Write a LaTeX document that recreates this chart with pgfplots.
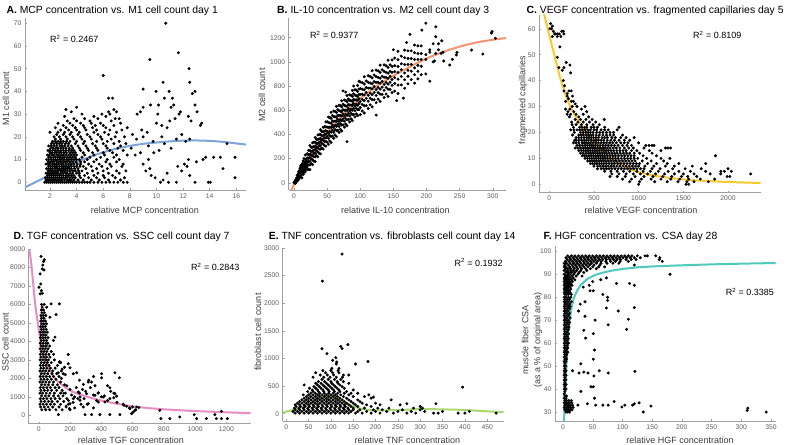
\documentclass[border=0pt]{standalone}
\usepackage{pgfplots}
\pgfplotsset{compat=1.18}
\usepackage{fontspec}
\setmainfont{Liberation Sans}
\definecolor{cA}{RGB}{123,164,219}
\definecolor{cB}{RGB}{246,148,110}
\definecolor{cC}{RGB}{250,200,40}
\definecolor{cD}{RGB}{232,140,196}
\definecolor{cE}{RGB}{170,216,110}
\definecolor{cF}{RGB}{80,200,190}
\definecolor{axgray}{RGB}{160,160,160}
\definecolor{tkgray}{RGB}{95,95,95}
\definecolor{lbgray}{RGB}{60,60,60}
\pgfplotsset{
  panel/.style={
    scale only axis, anchor=south west,
    axis x line*=bottom, axis y line*=left,
    axis line style={draw=axgray, line width=0.5pt},
    every tick/.style={draw=axgray, line width=0.4pt},
    tick align=inside, major tick length=2pt,
    ticklabel style={font=\fontsize{6.8}{8}\selectfont, text=tkgray},
    /pgf/number format/assume math mode=true,
    /pgf/number format/1000 sep={},
    scaled ticks=false,
  },
  pts/.style={only marks, mark=*, mark size=1.3pt, draw=black, fill=black},
  fit/.style={line width=2pt, smooth, no marks},
}
\newcommand{\ttl}{\fontsize{10.4}{12}\selectfont}
\newcommand{\lbl}{\fontsize{9}{10}\selectfont\color{lbgray}}
\newcommand{\rsq}{\fontsize{9}{10}\selectfont}
\begin{document}
\begin{tikzpicture}[x=1pt,y=1pt]
\useasboundingbox (0pt,0pt) rectangle (786pt,444pt);
% ---------------- A
\begin{axis}[panel, at={(25pt,254pt)}, width=221pt, height=172pt,
  xmin=0.12, xmax=16.73, ymin=-3.4, ymax=72.3,
  xtick={2,4,...,16}, ytick={0,10,...,70}]
\addplot[pts] coordinates {
(1.6,0)(1.75,0)(1.9,0)(2.05,0)(2.2,0)(2.35,0)(2.5,0)(2.65,0)(2.8,0)(2.95,0)(3.1,0)(3.25,0)(3.4,0)(3.55,0)(3.7,0)(3.85,0)(4,0)(4.2,0)(4.4,0)(4.6,0)(4.8,0)(5,0)(5.3,0)(5.6,0)(5.9,0)(6.2,0)(6.5,0)(6.8,0)(7.1,0)(7.5,0)(7.8,0)(10.3,0)(10.9,0)(11.5,0)(12.9,0)(13.9,0)(14.05,0)
(1.7,1)(1.85,1)(2,1)(2.15,1)(2.3,1)(2.45,1)(2.6,1)(2.75,1)(2.9,1)(3.1,1)(3.3,1)(3.45,1)(3.6,1)(3.8,1)(4.1,1)(4.5,1)(5.1,1)(5.7,1)(6.4,1)(7.3,1)(10.5,1)
(1.65,2)(1.8,2)(1.95,2)(2.1,2)(2.25,2)(2.4,2)(2.55,2)(2.7,2)(2.85,2)(3,2)(3.15,2)(3.3,2)(3.5,2)(3.7,2)(3.9,2)(4.3,2)(4.9,2)(5.5,2)(6.1,2)(6.9,2)(7.6,2)(9.9,2)(15.9,2)
(1.8,3)(1.95,3)(2.1,3)(2.25,3)(2.4,3)(2.55,3)(2.7,3)(2.85,3)(3,3)(3.2,3)(3.4,3)(3.6,3)(3.8,3)(4.2,3)(4.6,3)(5.3,3)(6,3)(6.7,3)(9.6,3)(12.5,3)
(1.7,4)(1.85,4)(2,4)(2.15,4)(2.3,4)(2.45,4)(2.6,4)(2.8,4)(3,4)(3.15,4)(3.3,4)(3.5,4)(3.7,4)(4,4)(4.2,4)(4.8,4)(5.6,4)(6.4,4)(7.2,4)(10.8,4)
(1.85,5)(2,5)(2.15,5)(2.3,5)(2.45,5)(2.6,5)(2.8,5)(2.95,5)(3.1,5)(3.3,5)(3.5,5)(3.7,5)(3.9,5)(4.15,5)(4.4,5)(5.2,5)(6,5)(7,5)(7.7,5)(9.2,5)(11.9,5)
(1.75,6)(1.9,6)(2.05,6)(2.2,6)(2.4,6)(2.55,6)(2.7,6)(2.85,6)(3,6)(3.15,6)(3.3,6)(3.45,6)(3.6,6)(3.85,6)(4.1,6)(4.7,6)(5.5,6)(6.3,6)(9.5,6)(15,6)
(1.9,7)(2.05,7)(2.2,7)(2.35,7)(2.5,7)(2.7,7)(2.9,7)(3.05,7)(3.2,7)(3.4,7)(3.6,7)(3.8,7)(4,7)(4.25,7)(4.5,7)(5.1,7)(5.9,7)(6.6,7)(7.4,7)(11.6,7)(12.3,7)
(1.7,8)(1.85,8)(2,8)(2.2,8)(2.35,8)(2.5,8)(2.65,8)(2.85,8)(3,8)(3.2,8)(3.4,8)(3.6,8)(3.8,8)(4.05,8)(4.3,8)(4.9,8)(5.7,8)(6.5,8)(7.5,8)(9,8)(12.1,8)
(1.85,9)(2,9)(2.15,9)(2.3,9)(2.5,9)(2.65,9)(2.8,9)(3,9)(3.15,9)(3.3,9)(3.5,9)(3.7,9)(3.95,9)(4.3,9)(4.6,9)(5.3,9)(6.2,9)(7,9)(13,9)
(1.75,10)(1.9,10)(2.1,10)(2.25,10)(2.4,10)(2.55,10)(2.75,10)(2.9,10)(3.05,10)(3.25,10)(3.4,10)(3.6,10)(3.8,10)(4,10)(4.2,10)(4.8,10)(5.5,10)(6.3,10)(7.2,10)(9.4,10)(12.4,10)(13.5,10)
(1.9,11)(2.05,11)(2.25,11)(2.4,11)(2.6,11)(2.75,11)(2.95,11)(3.1,11)(3.3,11)(3.5,11)(3.7,11)(3.9,11)(4.4,11)(5,11)(5.8,11)(6.8,11)(13.7,11)(14.3,11)(14.8,11)(15.9,11)
(1.8,12)(1.95,12)(2.15,12)(2.3,12)(2.5,12)(2.65,12)(2.85,12)(3,12)(3.2,12)(3.4,12)(3.6,12)(3.8,12)(4,12)(4.6,12)(5.3,12)(6.1,12)(7,12)(7.8,12)(8.4,12)
(2,13)(2.15,13)(2.35,13)(2.5,13)(2.7,13)(2.85,13)(3.05,13)(3.25,13)(3.5,13)(3.7,13)(3.9,13)(4.5,13)(5.2,13)(6,13)(6.7,13)(8.8,13)(9.8,13)
(1.85,14)(2,14)(2.2,14)(2.4,14)(2.6,14)(2.8,14)(3,14)(3.2,14)(3.4,14)(3.6,14)(3.8,14)(4.3,14)(4.9,14)(5.6,14)(6.5,14)(7.5,14)(10.2,14)
(2.05,15)(2.25,15)(2.45,15)(2.6,15)(2.8,15)(3,15)(3.2,15)(3.45,15)(3.7,15)(4.2,15)(4.8,15)(5.5,15)(6.3,15)(7.1,15)(8.1,15)(11.1,15)
(1.9,16)(2.1,16)(2.3,16)(2.5,16)(2.75,16)(2.9,16)(3.1,16)(3.35,16)(3.6,16)(4.1,16)(4.7,16)(5.4,16)(6.2,16)(7.3,16)(9.4,16)
(2.1,17)(2.3,17)(2.5,17)(2.7,17)(2.9,17)(3.15,17)(3.4,17)(3.9,17)(4.5,17)(5.2,17)(6,17)(6.8,17)(7.7,17)(10.6,17)(15.3,17)
(2.2,18)(2.4,18)(2.6,18)(2.8,18)(3,18)(3.25,18)(3.5,18)(4,18)(4.6,18)(5.5,18)(6.3,18)(7.2,18)(9.75,18)(12.2,18)
(2.4,19)(2.8,19)(3.3,19)(3.8,19)(4.4,19)(5.1,19)(5.9,19)(6.6,19)(8.5,19)(11.5,19)(12.5,19)
(2.3,20)(2.7,20)(3.2,20)(3.7,20)(4.3,20)(5,20)(5.8,20)(6.9,20)(7.6,20)(9,20)(10.4,20)
(2.5,21)(3,21)(3.5,21)(4.1,21)(4.8,21)(5.6,21)(6.4,21)(8.2,21)(11.9,21)
(2,22)(2.6,22)(3.1,22)(3.6,22)(4.2,22)(5.3,22)(6.1,22)(7,22)(9.3,22)
(2.8,23)(3.4,23)(4,23)(4.7,23)(5.5,23)(6.5,23)(7.4,23)(8.9,23)
(2.4,24)(3.2,24)(3.9,24)(4.6,24)(5.2,24)(6.2,24)(7.8,24)(10.8,24)
(3,25)(3.7,25)(4.5,25)(5.4,25)(6,25)(6.8,25)(10.4,25)(13.3,25)
(2.6,26)(3.5,26)(4.3,26)(5.1,26)(5.8,26)(7.3,26)(10,26)(13.4,26)
(3.3,27)(4,27)(5,27)(6.6,27)(11,27)(12.6,27)
(3.8,28)(4.6,28)(5.6,28)(6.9,28)(7.2,28)(11.4,28)
(3.1,29)(5.3,29)(6.2,29)(12.4,29)
(4.4,30)(5.9,30)(6.5,30)(8.55,30)(10.1,30)(11.7,30)
(3.6,31)(6.4,31)(7,31)(8.8,31)(11.8,31)(13.05,31)
(3.2,32)(6.8,32)(4,33)(9,33)(11.1,33)(9.55,34)(10.15,34)(11.3,34)(12.9,34)(6.4,37)(6.7,37)(10.6,37)(11.2,37)(12.7,39)(9.97,40)(10.95,40)(12.9,40)(9,41)(10.5,44)(12.5,44)(6,47)(12.45,50)(9.5,54)(11.65,57)(10.7,70)
};
\addplot[fit, cA] coordinates {(0.12,-2.2)(1,0.3)(2,3.3)(3,6.2)(4,8.8)(5,11.2)(6,13.2)(7,14.8)(8,16.0)(9,16.9)(10,17.5)(11,18.0)(12,18.3)(13,18.4)(14,18.2)(15,17.8)(16,17.1)(16.73,16.6)};
\end{axis}
% ---------------- B
\begin{axis}[panel, at={(288.7pt,254pt)}, width=217.3pt, height=172pt,
  xmin=-8, xmax=320, ymin=-60, ymax=1363,
  xtick={0,50,...,300}, ytick={0,200,...,1200}]
\addplot[pts] coordinates {
(0,0)(1,10)(2,-5)(2,20)(3,25)(4,40)(4,10)(5,30)(5,60)(6,45)(6,20)(6,70)(7,55)(7,90)(7,30)(8,70)(8,40)(8,100)(9,60)(9,85)(9,120)(10,50)(10,80)(10,110)(10,140)(11,95)(11,65)(11,130)(12,75)(12,105)(12,150)(12,40)(13,90)(13,125)(13,160)(14,100)(14,70)(14,140)(14,180)(15,115)(15,150)(15,85)(15,200)(16,130)(16,160)(16,100)(17,120)(17,145)(17,175)(17,90)(17,229)(18,135)(18,165)(18,195)(18,110)(19,150)(19,180)(19,125)(20,140)(20,170)(20,205)(20,110)(20,240)
(22,111)(22,147)(22,175)(22,203)(22,231)(22,267)
(24,108)(24,148)(24,176)(24,208)(24,236)(24,268)(24,308)
(26,157)(26,197)(26,229)(26,257)(26,293)
(28,150)(28,190)(28,222)(28,262)(28,294)(28,330)
(30,179)(30,215)(30,243)(30,271)(30,299)(30,335)
(32,175)(32,215)(32,243)(32,275)(32,303)(32,335)(32,375)
(34,223)(34,263)(34,295)(34,323)(34,359)
(36,215)(36,255)(36,287)(36,327)(36,359)(36,395)
(38,243)(38,279)(38,307)(38,335)(38,363)(38,399)
(40,239)(40,279)(40,307)(40,339)(40,367)(40,399)(40,439)
(42,287)(42,327)(42,359)(42,387)(42,423)
(44,279)(44,319)(44,351)(44,391)(44,423)(44,459)
(46,307)(46,343)(46,371)(46,399)(46,427)(46,463)
(48,303)(48,343)(48,371)(48,403)(48,431)(48,463)(48,503)
(50,335)(50,385)(50,425)(50,460)(50,505)
(52,318)(52,368)(52,408)(52,458)(52,498)(52,543)
(54,345)(54,390)(54,425)(54,460)(54,495)(54,540)
(56,333)(56,383)(56,418)(56,458)(56,493)(56,533)(56,583)
(58,386)(58,436)(58,476)(58,511)(58,556)
(60,368)(60,418)(60,458)(60,508)(60,548)(60,593)
(62,395)(62,440)(62,475)(62,510)(62,545)(62,590)
(64,382)(64,432)(64,467)(64,507)(64,542)(64,582)(64,632)
(66,434)(66,484)(66,524)(66,559)(66,604)
(68,416)(68,466)(68,506)(68,556)(68,596)(68,641)
(70,442)(70,487)(70,522)(70,557)(70,592)(70,637)
(72,428)(72,478)(72,513)(72,553)(72,588)(72,628)(72,678)
(74,479)(74,529)(74,569)(74,604)(74,649)(74,760)
(76,460)(76,510)(76,550)(76,600)(76,640)(76,685)
(78,486)(78,531)(78,566)(78,601)(78,636)(78,681)(78,750)
(80,472)(80,522)(80,557)(80,597)(80,632)(80,672)(80,722)(80,340)
(82,523)(82,573)(82,613)(82,648)(82,693)
(84,503)(84,553)(84,593)(84,643)(84,683)(84,728)
(86,529)(86,574)(86,609)(86,644)(86,679)(86,724)
(88,514)(88,564)(88,599)(88,639)(88,674)(88,714)(88,764)
(90,565)(90,615)(90,655)(90,690)(90,735)(90,800)
(92,545)(92,595)(92,635)(92,685)(92,725)(92,770)
(94,570)(94,615)(94,650)(94,685)(94,720)(94,765)
(96,555)(96,605)(96,640)(96,680)(96,715)(96,755)(96,805)
(98,605)(98,655)(98,695)(98,730)(98,775)(98,840)
(100,563)(100,623)(100,671)(100,731)(100,779)(100,833)
(103,594)(103,648)(103,690)(103,732)(103,774)(103,828)
(106,577)(106,637)(106,679)(106,727)(106,769)(106,817)(106,877)
(109,638)(109,698)(109,746)(109,788)(109,842)
(112,615)(112,675)(112,723)(112,783)(112,831)(112,885)
(115,645)(115,699)(115,741)(115,783)(115,825)(115,879)
(118,627)(118,687)(118,729)(118,777)(118,819)(118,867)(118,927)
(121,687)(121,747)(121,795)(121,837)(121,891)
(124,662)(124,722)(124,770)(124,830)(124,878)(124,932)(124,560)
(127,692)(127,746)(127,788)(127,830)(127,872)(127,926)
(130,673)(130,733)(130,775)(130,823)(130,865)(130,913)(130,973)
(133,731)(133,791)(133,839)(133,881)(133,935)
(136,705)(136,765)(136,813)(136,873)(136,921)(136,975)
(139,734)(139,788)(139,830)(139,872)(139,914)(139,968)
(142,714)(142,774)(142,816)(142,864)(142,906)(142,954)(142,1014)
(145,772)(145,832)(145,880)(145,922)(145,976)
(148,746)(148,806)(148,854)(148,914)(148,962)(148,1016)
(152,758)(152,821)(152,870)(152,919)(152,968)(152,1031)(150,1100)
(157,738)(157,808)(157,857)(157,913)(157,962)(157,1018)(157,1088)(155,680)
(162,809)(162,879)(162,935)(162,984)(162,1047)
(167,782)(167,852)(167,908)(167,978)(167,1034)(167,1097)(165,700)
(172,818)(172,881)(172,930)(172,979)(172,1028)(172,1091)(170,1160)
(177,853)(177,923)(177,979)(177,1028)(177,1091)(175,1228)
(182,824)(182,894)(182,950)(182,1020)(182,1076)(182,1139)
(187,859)(187,922)(187,971)(187,1020)(187,1069)(187,1132)
(192,894)(192,964)(192,1020)(192,1069)(192,1132)(193,1263)
(199,1320)(199,1020)(199,1060)(199,900)(205,840)(205,1080)(205,1100)(210,1000)(212,1007)(210,1150)(214,1290)(214,1208)(214,1070)(218,1150)(218,1100)(223,1175)(222,1070)(226,1007)(225,1080)(235,974)(239,1021)(245,1057)(246,1078)(268,1098)(285,1065)(299,1250)(298,1238)(304,1195)
};
\addplot[fit, cB] coordinates {(-4,-60)(0,-15)(10,85)(25,220)(50,415)(75,565)(100,695)(125,800)(150,885)(175,960)(200,1028)(225,1082)(250,1126)(275,1160)(300,1183)(320,1197)};
\end{axis}
% ---------------- C
\begin{axis}[panel, at={(539pt,251.3pt)}, width=221.7pt, height=177.7pt,
  xmin=-115, xmax=2366, ymin=-3.24, ymax=65.3,
  xtick={0,500,...,2000}, ytick={0,10,...,60}]
\addplot[pts] coordinates {
(15,62)(35,61)(7,60)(25,60)(45,59)(140,59)(157,59)(60,58)(71,58)(95,58)(112,58)(164,58)(34,57)(90,57)(130,57)(119,53)(90,49)(190,47)(231,46)(108,45)(164,45)(145,44)(239,43)(157,40)(170,38)(164,36)(220,36)(245,36)(200,35)(201,34)(260,34)(215,33)(183,32)(246,32)(269,32)(290,31)(257,30)(310,30)(400,30)(183,29)(230,29)(360,29)(209,28)(275,28)(420,28)(200,27)(239,27)(300,27)(380,27)(225,26)(330,26)(440,26)(290,25)(350,25)(410,25)(480,25)(615,25)(320,24)(380,24)(450,24)(520,24)(300,23)(360,23)(420,23)(490,23)(560,23)(780,22)
(250,24)(270,22)(240,21)(280,20)(260,19)(285,17)(270,16)(290,14)(275,21)(255,23)
(340,22)(365,22)(395,22)(420,22)(470,22)(500,22)(540,22)(620,22)
(310,21)(340,21)(370,21)(400,21)(430,21)(460,21)(500,21)(530,21)(580,21)(620,21)(660,21)(760,21)
(350,20)(380,20)(410,20)(435,20)(460,20)(490,20)(530,20)(565,20)(600,20)(640,20)(680,20)(720,20)
(330,19)(355,19)(380,19)(410,19)(440,19)(465,19)(490,19)(525,19)(560,19)(600,19)(640,19)(680,19)(720,19)(820,19)
(300,18)(330,18)(360,18)(390,18)(420,18)(445,18)(470,18)(495,18)(520,18)(550,18)(590,18)(620,18)(650,18)(700,18)(740,18)(800,18)(860,18)(950,18)
(300,17)(330,17)(360,17)(390,17)(415,17)(440,17)(470,17)(500,17)(525,17)(550,17)(580,17)(610,17)(650,17)(690,17)(730,17)(780,17)(840,17)(900,17)
(300,16)(330,16)(370,16)(390,16)(410,16)(435,16)(460,16)(490,16)(520,16)(550,16)(580,16)(610,16)(640,16)(675,16)(710,16)(750,16)(800,16)(840,16)(880,16)(1000,16)
(310,15)(340,15)(370,15)(400,15)(425,15)(450,15)(470,15)(490,15)(515,15)(540,15)(570,15)(600,15)(630,15)(660,15)(695,15)(730,15)(770,15)(820,15)(870,15)(920,15)(1080,15)(1116,15)(1150,15)(1172,15)
(320,14)(350,14)(380,14)(405,14)(430,14)(455,14)(480,14)(500,14)(520,14)(545,14)(570,14)(595,14)(620,14)(650,14)(680,14)(715,14)(750,14)(790,14)(840,14)(890,14)(940,14)(1060,14)(1300,14)(1328,14)(1358,14)
(330,13)(360,13)(385,13)(410,13)(435,13)(460,13)(485,13)(510,13)(535,13)(560,13)(585,13)(610,13)(635,13)(660,13)(690,13)(720,13)(755,13)(790,13)(825,13)(860,13)(920,13)(980,13)(1120,13)(1250,13)
(350,12)(380,12)(410,12)(440,12)(465,12)(490,12)(515,12)(540,12)(565,12)(590,12)(615,12)(640,12)(670,12)(700,12)(730,12)(760,12)(795,12)(830,12)(865,12)(900,12)(950,12)(1010,12)(1150,12)
(370,11)(395,11)(420,11)(445,11)(470,11)(495,11)(520,11)(545,11)(570,11)(595,11)(620,11)(650,11)(680,11)(710,11)(740,11)(775,11)(810,11)(845,11)(880,11)(915,11)(950,11)(1050,11)(1200,11)(1860,11)
(400,10)(425,10)(450,10)(475,10)(500,10)(525,10)(550,10)(575,10)(600,10)(625,10)(650,10)(680,10)(710,10)(740,10)(770,10)(805,10)(840,10)(875,10)(910,10)(950,10)(990,10)(1090,10)(1250,10)(1350,10)
(430,9)(455,9)(480,9)(505,9)(530,9)(555,9)(580,9)(605,9)(630,9)(660,9)(690,9)(720,9)(750,9)(785,9)(820,9)(855,9)(890,9)(925,9)(960,9)(1040,9)(1140,9)(1280,9)
(460,8)(485,8)(510,8)(535,8)(560,8)(585,8)(610,8)(640,8)(670,8)(700,8)(730,8)(765,8)(800,8)(835,8)(870,8)(905,8)(940,8)(975,8)(1010,8)(1100,8)(1200,8)(1320,8)(1450,8)(1750,8)
(500,7)(540,7)(570,7)(600,7)(630,7)(660,7)(690,7)(720,7)(755,7)(790,7)(825,7)(860,7)(895,7)(930,7)(965,7)(1000,7)(1070,7)(1170,7)(1300,7)(1400,7)(1600,7)
(540,6)(580,6)(610,6)(640,6)(670,6)(700,6)(735,6)(770,6)(805,6)(840,6)(875,6)(910,6)(945,6)(980,6)(1020,6)(1060,6)(1150,6)(1240,6)(1380,6)(1520,6)(1700,6)(2000,6)
(620,5)(690,5)(760,5)(830,5)(900,5)(980,5)(1050,5)(1130,5)(1220,5)(1330,5)(1450,5)(1580,5)(1750,5)(1920,5)(1960,5)(2037,5)
(700,4)(780,4)(860,4)(940,4)(1020,4)(1100,4)(1190,4)(1290,4)(1400,4)(1500,4)(1620,4)(1800,4)(1918,4)(2254,4)
(680,3)(760,3)(850,3)(960,3)(1060,3)(1160,3)(1270,3)(1370,3)(1480,3)(1550,3)(1650,3)(1990,3)(2020,3)
(820,2)(920,2)(1030,2)(1140,2)(1250,2)(1360,2)(1460,2)(1560,2)(1690,2)(1850,2)
(900,1)(1010,1)(1180,1)(1320,1)(1440,1)(1540,1)(1620,1)(1780,1)(1000,0)(1530,0)(1560,0)
};
\addplot[fit, cC] coordinates {(-67,67)(-18,60)(56,50)(131,40)(235,30)(411,20)(540,15)(691,10)(830,7.2)(970,5)(1150,3.5)(1340,2.5)(1600,1.6)(2000,0.9)(2366,0.5)};
\end{axis}
% ---------------- D
\begin{axis}[panel, at={(28.7pt,20.3pt)}, width=222pt, height=174.7pt,
  xmin=-64, xmax=1355, ymin=-454, ymax=9000,
  xtick={0,200,...,1200}, ytick={0,1000,...,9000}]
\addplot[pts] coordinates {
(15,8600)(30,8320)(36,8420)(26,8130)(23,7920)(9,7650)(34,7860)(13,7110)(2,6930)(17,6750)(9,6570)(23,6600)(79,6030)(132,6030)(51,5850)(111,5450)(72,5310)(104,4230)(94,4050)(189,3290)(157,2250)(189,2790)(132,2880)(200,2570)(243,2300)(221,2250)(285,1670)(317,1800)(338,1800)(402,2250)(402,2030)(487,2300)(515,2030)(455,1490)(487,1170)(498,1040)(413,990)(423,720)(455,900)(545,540)(562,490)(583,360)(600,450)(615,270)(594,90)(604,180)(626,450)(519,36)(391,36)(338,36)(296,36)(455,36)(126,36)(196,360)(200,630)(221,900)(264,990)(306,1170)(360,1080)(381,1220)(381,720)(317,630)(285,450)(264,810)(253,1260)(774,270)(781,-180)(838,-180)(902,-90)(994,36)(1009,-180)(1072,-180)(1126,36)(1136,-180)(1168,216)(1168,-180)(1206,-180)
(20,300)(45,300)(70,300)(110,300)(150,300)
(12,450)(35,450)(60,450)(90,450)(130,450)(175,450)
(8,600)(28,600)(50,600)(75,600)(100,600)(140,600)(190,600)
(15,750)(38,750)(62,750)(85,750)(120,750)(160,750)
(10,900)(30,900)(52,900)(78,900)(105,900)(135,900)(180,900)
(18,1050)(42,1050)(65,1050)(95,1050)(125,1050)(155,1050)
(8,1200)(25,1200)(48,1200)(72,1200)(100,1200)(140,1200)(170,1200)
(14,1350)(36,1350)(58,1350)(82,1350)(115,1350)(150,1350)
(10,1500)(30,1500)(52,1500)(75,1500)(105,1500)(130,1500)
(18,1650)(40,1650)(62,1650)(90,1650)(120,1650)(165,1650)
(8,1800)(26,1800)(46,1800)(68,1800)(95,1800)(140,1800)
(14,1950)(34,1950)(55,1950)(80,1950)(110,1950)
(10,2100)(28,2100)(48,2100)(70,2100)(95,2100)(130,2100)
(16,2250)(36,2250)(58,2250)(85,2250)(115,2250)
(8,2400)(25,2400)(44,2400)(65,2400)(90,2400)(145,2400)
(14,2550)(32,2550)(52,2550)(75,2550)(105,2550)
(10,2700)(28,2700)(46,2700)(66,2700)(120,2700)
(16,2850)(35,2850)(55,2850)(80,2850)(140,2850)
(9,3000)(26,3000)(44,3000)(62,3000)(100,3000)
(14,3150)(32,3150)(50,3150)(72,3150)
(10,3300)(27,3300)(45,3300)(65,3300)(95,3300)
(16,3450)(34,3450)(52,3450)(80,3450)
(9,3600)(25,3600)(42,3600)(60,3600)
(14,3750)(31,3750)(48,3750)(70,3750)
(10,3900)(27,3900)(44,3900)(58,3900)
(16,4050)(33,4050)(50,4050)
(11,4200)(26,4200)(42,4200)(60,4200)
(15,4350)(31,4350)(47,4350)
(10,4500)(25,4500)(40,4500)(55,4500)
(17,4650)(32,4650)(48,4650)
(12,4800)(27,4800)(42,4800)
(18,4950)(33,4950)(50,4950)
(13,5100)(28,5100)(43,5100)
(18,5250)(34,5250)
(14,5400)(29,5400)(45,5400)
(20,5550)(36,5550)
(16,5700)(31,5700)
(22,5850)
(18,6000)(35,6000)
(150,2500)(170,2200)(135,2900)(180,1600)(200,1400)(160,1200)(210,1100)(230,1000)(190,800)(250,900)(220,700)(175,500)(240,1500)(260,1900)(280,1400)(300,1300)(330,1500)(350,1100)(370,800)(420,1050)(440,800)(460,1300)(480,950)(500,700)(540,600)(580,400)(620,300)(640,420)(260,1200)(290,900)(310,600)(350,400)(270,600)(230,400)(200,300)(320,1900)(360,1600)(380,1200)(400,1000)(440,1600)(480,1200)(350,2100)(165,2600)(145,2000)(125,2300)
};
\addplot[fit, cD] coordinates {(-60,9000)(-45,8000)(-34,7000)(-22,6000)(-6,5000)(13,4000)(42,3000)(104,2000)(200,1350)(300,1030)(400,800)(500,625)(600,485)(700,392)(800,324)(900,275)(1000,232)(1100,195)(1200,162)(1355,115)};
\end{axis}
% ---------------- E
\begin{axis}[panel, at={(282.7pt,22.7pt)}, width=221pt, height=173.3pt,
  xmin=-8, xmax=487, ymin=-138, ymax=3000,
  xtick={0,50,...,450}, ytick={0,500,...,3000}]
\addplot[pts] coordinates {
(20,10)(30,10)(40,10)(50,10)(60,10)(70,10)(80,10)(90,10)(100,10)(110,10)(120,10)(130,10)(140,10)(155,10)(170,10)(190,10)(210,10)(240,10)(270,10)(290,10)(330,10)(340,10)(385,10)(400,10)(470,10)
(15,40)(25,40)(35,40)(45,40)(55,40)(65,40)(75,40)(85,40)(95,40)(105,40)(115,40)(125,40)(135,40)(145,40)(160,40)(180,40)(200,40)(225,40)(250,40)(280,40)(310,40)(350,40)(410,40)
(20,70)(30,70)(40,70)(50,70)(60,70)(70,70)(80,70)(90,70)(100,70)(110,70)(120,70)(130,70)(140,70)(150,70)(165,70)(195,70)(215,70)(260,70)(300,70)
(18,100)(28,100)(38,100)(48,100)(58,100)(68,100)(78,100)(88,100)(98,100)(108,100)(118,100)(128,100)(138,100)(150,100)(175,100)(205,100)(230,100)(285,100)(305,100)
(22,130)(32,130)(42,130)(52,130)(62,130)(72,130)(82,130)(92,130)(102,130)(112,130)(122,130)(132,130)(145,130)(160,130)(190,130)(300,130)
(20,160)(30,160)(40,160)(50,160)(60,160)(70,160)(80,160)(90,160)(100,160)(110,160)(120,160)(130,160)(140,160)(155,160)(180,160)(210,160)(255,160)(335,180)
(25,190)(35,190)(45,190)(55,190)(65,190)(75,190)(85,190)(95,190)(105,190)(115,190)(125,190)(135,190)(150,190)(170,190)(200,190)(270,180)
(30,220)(40,220)(50,220)(60,220)(70,220)(80,220)(90,220)(100,220)(110,220)(120,220)(130,220)(145,220)(165,220)(235,250)
(35,250)(45,250)(55,250)(65,250)(75,250)(85,250)(95,250)(105,250)(115,250)(125,250)(140,250)(160,250)
(40,280)(50,280)(60,280)(70,280)(80,280)(90,280)(100,280)(110,280)(120,280)(135,280)(190,280)(195,300)
(45,310)(55,310)(65,310)(75,310)(85,310)(95,310)(105,310)(115,310)(128,310)(150,310)(175,310)
(38,340)(50,340)(60,340)(70,340)(80,340)(90,340)(100,340)(110,340)(122,340)(140,340)(185,340)
(55,370)(65,370)(75,370)(85,370)(95,370)(105,370)(115,370)(130,370)(145,370)(160,370)
(48,400)(60,400)(72,400)(84,400)(96,400)(108,400)(120,400)(135,400)
(58,430)(70,430)(82,430)(94,430)(106,430)(118,430)(150,430)
(52,460)(66,460)(78,460)(90,460)(102,460)(114,460)(130,460)
(62,490)(74,490)(86,490)(98,490)(110,490)(125,490)
(40,520)(70,520)(82,520)(94,520)(106,520)(120,520)
(66,550)(78,550)(90,550)(102,550)(116,550)(140,550)
(72,580)(86,580)(100,580)(114,580)(128,580)
(80,620)(94,620)(108,620)(122,620)
(60,660)(84,660)(98,660)(112,660)(126,660)
(76,700)(92,700)(106,700)(128,700)(140,700)
(66,740)(88,740)(104,740)(118,740)
(82,780)(100,780)(116,780)
(102,820)(118,820)
(112,900)(155,900)(104,966)(113,935)(183,945)(111,1014)(91,1086)(80,1177)(125,1180)(122,1219)(138,1250)(81,2400)(125,2890)(395,480)
};
\addplot[fit, cE] coordinates {(-8,18)(0,38)(25,90)(50,165)(75,270)(100,320)(115,298)(130,215)(150,133)(175,78)(200,60)(250,66)(300,82)(350,78)(400,66)(450,42)(487,26)};
\end{axis}
% ---------------- F
\begin{axis}[panel, at={(555pt,23pt)}, width=220.7pt, height=175pt,
  xmin=-13.5, xmax=358, ymin=26.1, ymax=102.3,
  xtick={0,50,...,350}, ytick={30,40,...,100}]
\addplot[pts] coordinates {
(8,98)(14,98)(20,98)(26,98)(32,98)(38,98)(44,98)(50,98)(56,98)(62,98)(68,98)(74,98)(80,98)(86,98)(92,98)(98,98)(104,98)(110,98)(116,98)(125,98)(138,98)(142,98)(156,98)
(5,97.2)(11,97.2)(17,97.2)(23,97.2)(29,97.2)(35,97.2)(41,97.2)(47,97.2)(53,97.2)(59,97.2)(65,97.2)(71,97.2)(77,97.2)(83,97.2)(89,97.2)(95,97.2)(101,97.2)(107,97.2)(113,97.2)(120,97.2)(130,97.2)(163,97.2)
(7,96.4)(13,96.4)(19,96.4)(25,96.4)(31,96.4)(37,96.4)(43,96.4)(49,96.4)(55,96.4)(61,96.4)(67,96.4)(73,96.4)(79,96.4)(85,96.4)(91,96.4)(97,96.4)(106,96.4)(115,96.4)(123,96.4)(162,96.4)
(4,95.6)(10,95.6)(16,95.6)(22,95.6)(28,95.6)(34,95.6)(40,95.6)(46,95.6)(52,95.6)(58,95.6)(64,95.6)(72,95.6)(80,95.6)(88,95.6)(96,95.6)(110,95.6)(167,95.6)
(2,94.8)(6,94.8)(12,94.8)(18,94.8)(24,94.8)(30,94.8)(36,94.8)(42,94.8)(48,94.8)(56,94.8)(64,94.8)(74,94.8)(84,94.8)(94,94.8)
(3,94)(9,94)(15,94)(21,94)(27,94)(33,94)(39,94)(45,94)(52,94)(62,94)(120,94)
(2,93.2)(5,93.2)(11,93.2)(17,93.2)(23,93.2)(29,93.2)(35,93.2)(42,93.2)(50,93.2)(60,93.2)(70,93.2)
(4,92.4)(8,92.4)(13,92.4)(19,92.4)(25,92.4)(31,92.4)(38,92.4)(46,92.4)(56,92.4)
(2,91.6)(7,91.6)(12,91.6)(17,91.6)(23,91.6)(30,91.6)(40,91.6)
(5,90.8)(9,90.8)(14,90.8)(20,90.8)(27,90.8)(35,90.8)
(2,90)(8,90)(12,90)(18,90)(25,90)(180,90)
(4,89.2)(7,89.2)(10,89.2)(15,89.2)(22,89.2)(32,89.2)
(2,88.4)(5,88.4)(8,88.4)(12,88.4)(17,88.4)(73,88.4)
(3,87.6)(6,87.6)(10,87.6)(14,87.6)(20,87.6)(63.5,87.6)
(2,86.8)(5,86.8)(8,86.8)(11,86.8)(16,86.8)(50,86.8)
(3,86)(6,86)(9,86)(13,86)(90,86)(112,86)
(2,85.2)(5,85.2)(8,85.2)(11,85.2)(15,85.2)(44,85.2)(120,85.2)
(3,84.4)(6,84.4)(9,84.4)(12,84.4)(34,84.4)
(2,83.6)(5,83.6)(8,83.6)(13,83.6)
(3,82.8)(6,82.8)(9,82.8)(11,82.8)(45.5,82.8)(51,82.8)
(2,82)(5,82)(8,82)(12,82)
(3,81.2)(6,81.2)(9,81.2)(14,81.2)(67,81.2)
(2,80)(5,80)(9,80)(13,80)(75,80)
(3,79)(7,79)(11,79)
(2,78)(5,78)(9,78)(14,78)(37,78)(75,78.6)
(3,77)(7,77)(11,77)(29,77)
(2,76)(5,76)(9,76)(12,76)
(3,75)(7,75)(11,75)(73,75.3)(120,75.5)
(2,74)(5,74)(9,74)(26,74)(93,74)
(3,73)(7,73)(11,73)
(2,72)(5,72)(9,72)(37,71.7)
(3,71)(7,71)(12,71)
(2,70)(5,70)(9,70)(54,70)(110,70.4)
(3,69)(7,69)(11,69)
(2,68)(5,68)(9,68)(76,68)
(3,67)(7,67)(10,67)
(2,66)(5,66)(9,66)(107,66)
(3,65)(7,65)(35,65.6)
(2,64)(5,64)(9,64)(51,64.1)
(3,63)(7,63)
(2,62)(5,62)(9,62)(38,62.2)
(3,61)(7,61)
(2,60)(5,60)(9,60)
(3,59)(7,59)
(2,58)(5,58)(8,58)
(3,57)(6,57)(53,57)
(2,56)(5,56)(8,56)
(3,55)(6,55)
(2,54)(5,54)
(3,53)(6,53)(51,53)
(2,52)(5,52)
(3,51)(30,51)
(2,50)(5,50)
(3,49)
(2,48)(5,48)(16,48)(61,48)
(3,47)(27,47)(42,47)(76,47)(121,47.7)
(2,46)(5,46)(35,47.4)(52,45.7)
(3,45)
(2,44)(5,44)
(3,43)
(2,42)(5,42)
(3,41)(47,41)(51,41)
(2,40)(5,40)
(3,39)(30,39)
(2,38)
(3,37)(6,37)
(2,36)(5,36)(53,36)
(3,35)(6,35)(10,35)(14,35)
(2,34)(5,34)(8,34)(11,34)(15,34)(86,34.6)(128,34)
(3,33)(6,33)(9,33)(12,33)(16,33)(25,33)(55,33)(67,33)(76,33)(104,33)(117,33)(41,33.6)(120,33.6)
(2,32)(5,32)(8,32)(10,32)(13,32)(17,32)(99,32.2)(148,32.6)
(3,31)(6,31)(9,31)(12,31)(15,31)(311,31.7)
(5,30)(8,30)(11,30)(135,30)(310,30.7)(342,30)
};
\addplot[cF, line width=2pt, no marks] coordinates {(1.7,26)(2.6,33)(3.9,40)(5.6,50)(7.9,60)(9.5,65.5)(11.2,70)(14,75)(17.4,79)(22,82)(28.7,85)(35,86.6)(41,88)(55,89.8)(70,90.9)(85,91.7)(100,92.3)(125,93)(150,93.4)(200,93.9)(250,94.3)(300,94.6)(358,94.9)};
\end{axis}
% ---------------- texts
\node[anchor=base west] at (3pt,430pt) {\ttl\textbf{A.} MCP concentration vs. M1 cell count day 1};
\node[anchor=base west] at (273.7pt,430pt) {\ttl\textbf{B.} IL-10 concentration vs. M2 cell count day 3};
\node[anchor=base west] at (523pt,430pt) {\ttl\textbf{C.} VEGF concentration vs. fragmented capillaries day 5};
\node[anchor=base west] at (10pt,204.5pt) {\ttl\textbf{D.} TGF concentration vs. SSC cell count day 7};
\node[anchor=base west] at (265.3pt,204.5pt) {\ttl\textbf{E.} TNF concentration vs. fibroblasts cell count day 14};
\node[anchor=base west] at (540pt,204.5pt) {\ttl\textbf{F.} HGF concentration vs. CSA day 28};
\node[anchor=base] at (144.8pt,230.7pt) {\lbl relative MCP concentration};
\node[anchor=base] at (395.3pt,230.7pt) {\lbl relative IL-10 concentration};
\node[anchor=base] at (641pt,230.7pt) {\lbl relative VEGF concentration};
\node[anchor=base] at (130.8pt,1pt) {\lbl relative TGF concentration};
\node[anchor=base] at (407.3pt,1pt) {\lbl relative TNF concentration};
\node[anchor=base] at (680pt,1pt) {\lbl relative HGF concentration};
\node[rotate=90] at (6pt,345.3pt) {\lbl M1 cell count};
\node[rotate=90] at (262pt,349pt) {\lbl M2 cell count};
\node[rotate=90] at (523pt,344pt) {\lbl fragmented capillaries};
\node[rotate=90] at (5.5pt,102pt) {\lbl SSC cell count};
\node[rotate=90] at (258pt,112pt) {\lbl fibroblast cell count};
\node[rotate=90, align=center, inner sep=0pt] at (532pt,104pt) {\lbl muscle fiber CSA\\\lbl (as a \% of original area)};
\node[anchor=base west] at (46.7pt,401pt) {\rsq R\textsuperscript{2} = 0.2467};
\node[anchor=base west] at (306.7pt,405pt) {\rsq R\textsuperscript{2} = 0.9377};
\node[anchor=base west] at (689.7pt,405pt) {\rsq R\textsuperscript{2} = 0.8109};
\node[anchor=base west] at (187.7pt,173pt) {\rsq R\textsuperscript{2} = 0.2843};
\node[anchor=base west] at (451pt,177.7pt) {\rsq R\textsuperscript{2} = 0.1932};
\node[anchor=base west] at (722.3pt,148pt) {\rsq R\textsuperscript{2} = 0.3385};
\end{tikzpicture}
\end{document}
